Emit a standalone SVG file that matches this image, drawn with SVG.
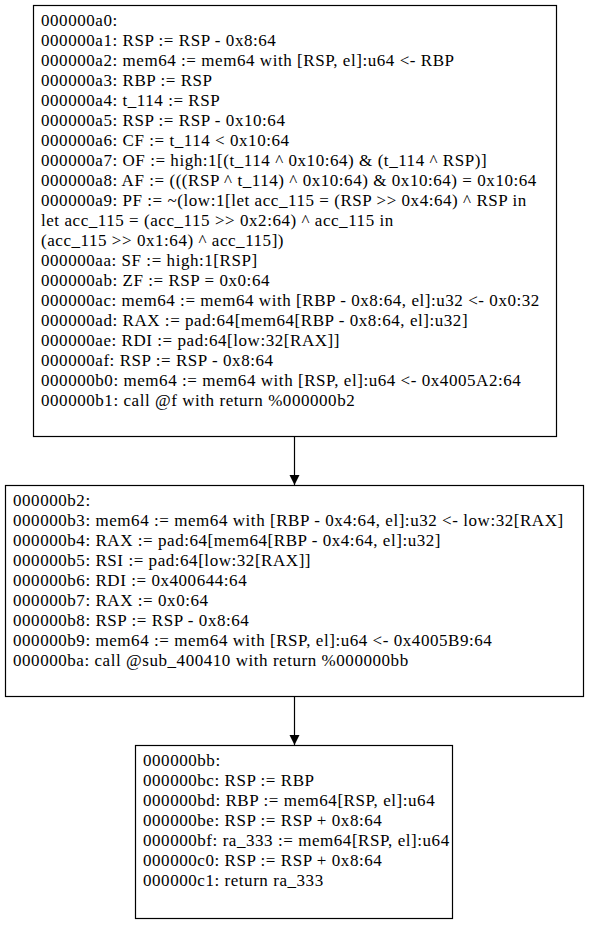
<svg xmlns="http://www.w3.org/2000/svg" width="589" height="925" viewBox="0 0 589 925">
<style>
  .box { fill: #ffffff; stroke: #000000; stroke-width: 1.2; }
  .edge { stroke: #000000; stroke-width: 1.2; fill: none; }
  text { font-family: "Liberation Serif", "Times New Roman", serif; font-size: 17px; letter-spacing: 0.55px; fill: #000000; }
</style>
<defs>
  <marker id="arrow" markerWidth="10" markerHeight="12" refX="10" refY="5" orient="auto" markerUnits="userSpaceOnUse" viewBox="0 0 10 10">
    <path d="M0,0 L10,5 L0,10 Z" fill="#000000"/>
  </marker>
</defs>
<rect width="589" height="925" fill="#ffffff"/>
<g id="edges">
  <line class="edge" x1="294.5" y1="437" x2="294.5" y2="485" marker-end="url(#arrow)"/>
  <line class="edge" x1="294.5" y1="697" x2="294.5" y2="745" marker-end="url(#arrow)"/>
</g>
<g id="node_a0">
  <rect class="box" x="33.5" y="5.5" width="523" height="431"/>
  <text x="41" y="26">000000a0:</text>
  <text x="41" y="46">000000a1: RSP := RSP - 0x8:64</text>
  <text x="41" y="66">000000a2: mem64 := mem64 with [RSP, el]:u64 &lt;- RBP</text>
  <text x="41" y="86">000000a3: RBP := RSP</text>
  <text x="41" y="106">000000a4: t_114 := RSP</text>
  <text x="41" y="126">000000a5: RSP := RSP - 0x10:64</text>
  <text x="41" y="146">000000a6: CF := t_114 &lt; 0x10:64</text>
  <text x="41" y="166">000000a7: OF := high:1[(t_114 ^ 0x10:64) &amp; (t_114 ^ RSP)]</text>
  <text x="41" y="186">000000a8: AF := (((RSP ^ t_114) ^ 0x10:64) &amp; 0x10:64) = 0x10:64</text>
  <text x="41" y="206">000000a9: PF := ~(low:1[let acc_115 = (RSP &gt;&gt; 0x4:64) ^ RSP in</text>
  <text x="41" y="226">let acc_115 = (acc_115 &gt;&gt; 0x2:64) ^ acc_115 in</text>
  <text x="41" y="246">(acc_115 &gt;&gt; 0x1:64) ^ acc_115])</text>
  <text x="41" y="266">000000aa: SF := high:1[RSP]</text>
  <text x="41" y="286">000000ab: ZF := RSP = 0x0:64</text>
  <text x="41" y="306">000000ac: mem64 := mem64 with [RBP - 0x8:64, el]:u32 &lt;- 0x0:32</text>
  <text x="41" y="326">000000ad: RAX := pad:64[mem64[RBP - 0x8:64, el]:u32]</text>
  <text x="41" y="346">000000ae: RDI := pad:64[low:32[RAX]]</text>
  <text x="41" y="366">000000af: RSP := RSP - 0x8:64</text>
  <text x="41" y="386">000000b0: mem64 := mem64 with [RSP, el]:u64 &lt;- 0x4005A2:64</text>
  <text x="41" y="406">000000b1: call @f with return %000000b2</text>
</g>
<g id="node_b2">
  <rect class="box" x="5.5" y="485.5" width="578" height="211"/>
  <text x="13" y="506">000000b2:</text>
  <text x="13" y="526">000000b3: mem64 := mem64 with [RBP - 0x4:64, el]:u32 &lt;- low:32[RAX]</text>
  <text x="13" y="546">000000b4: RAX := pad:64[mem64[RBP - 0x4:64, el]:u32]</text>
  <text x="13" y="566">000000b5: RSI := pad:64[low:32[RAX]]</text>
  <text x="13" y="586">000000b6: RDI := 0x400644:64</text>
  <text x="13" y="606">000000b7: RAX := 0x0:64</text>
  <text x="13" y="626">000000b8: RSP := RSP - 0x8:64</text>
  <text x="13" y="646">000000b9: mem64 := mem64 with [RSP, el]:u64 &lt;- 0x4005B9:64</text>
  <text x="13" y="666">000000ba: call @sub_400410 with return %000000bb</text>
</g>
<g id="node_bb">
  <rect class="box" x="135.5" y="745.5" width="317" height="173"/>
  <text x="143" y="766">000000bb:</text>
  <text x="143" y="786">000000bc: RSP := RBP</text>
  <text x="143" y="806">000000bd: RBP := mem64[RSP, el]:u64</text>
  <text x="143" y="826">000000be: RSP := RSP + 0x8:64</text>
  <text x="143" y="846">000000bf: ra_333 := mem64[RSP, el]:u64</text>
  <text x="143" y="866">000000c0: RSP := RSP + 0x8:64</text>
  <text x="143" y="886">000000c1: return ra_333</text>
</g>
</svg>
